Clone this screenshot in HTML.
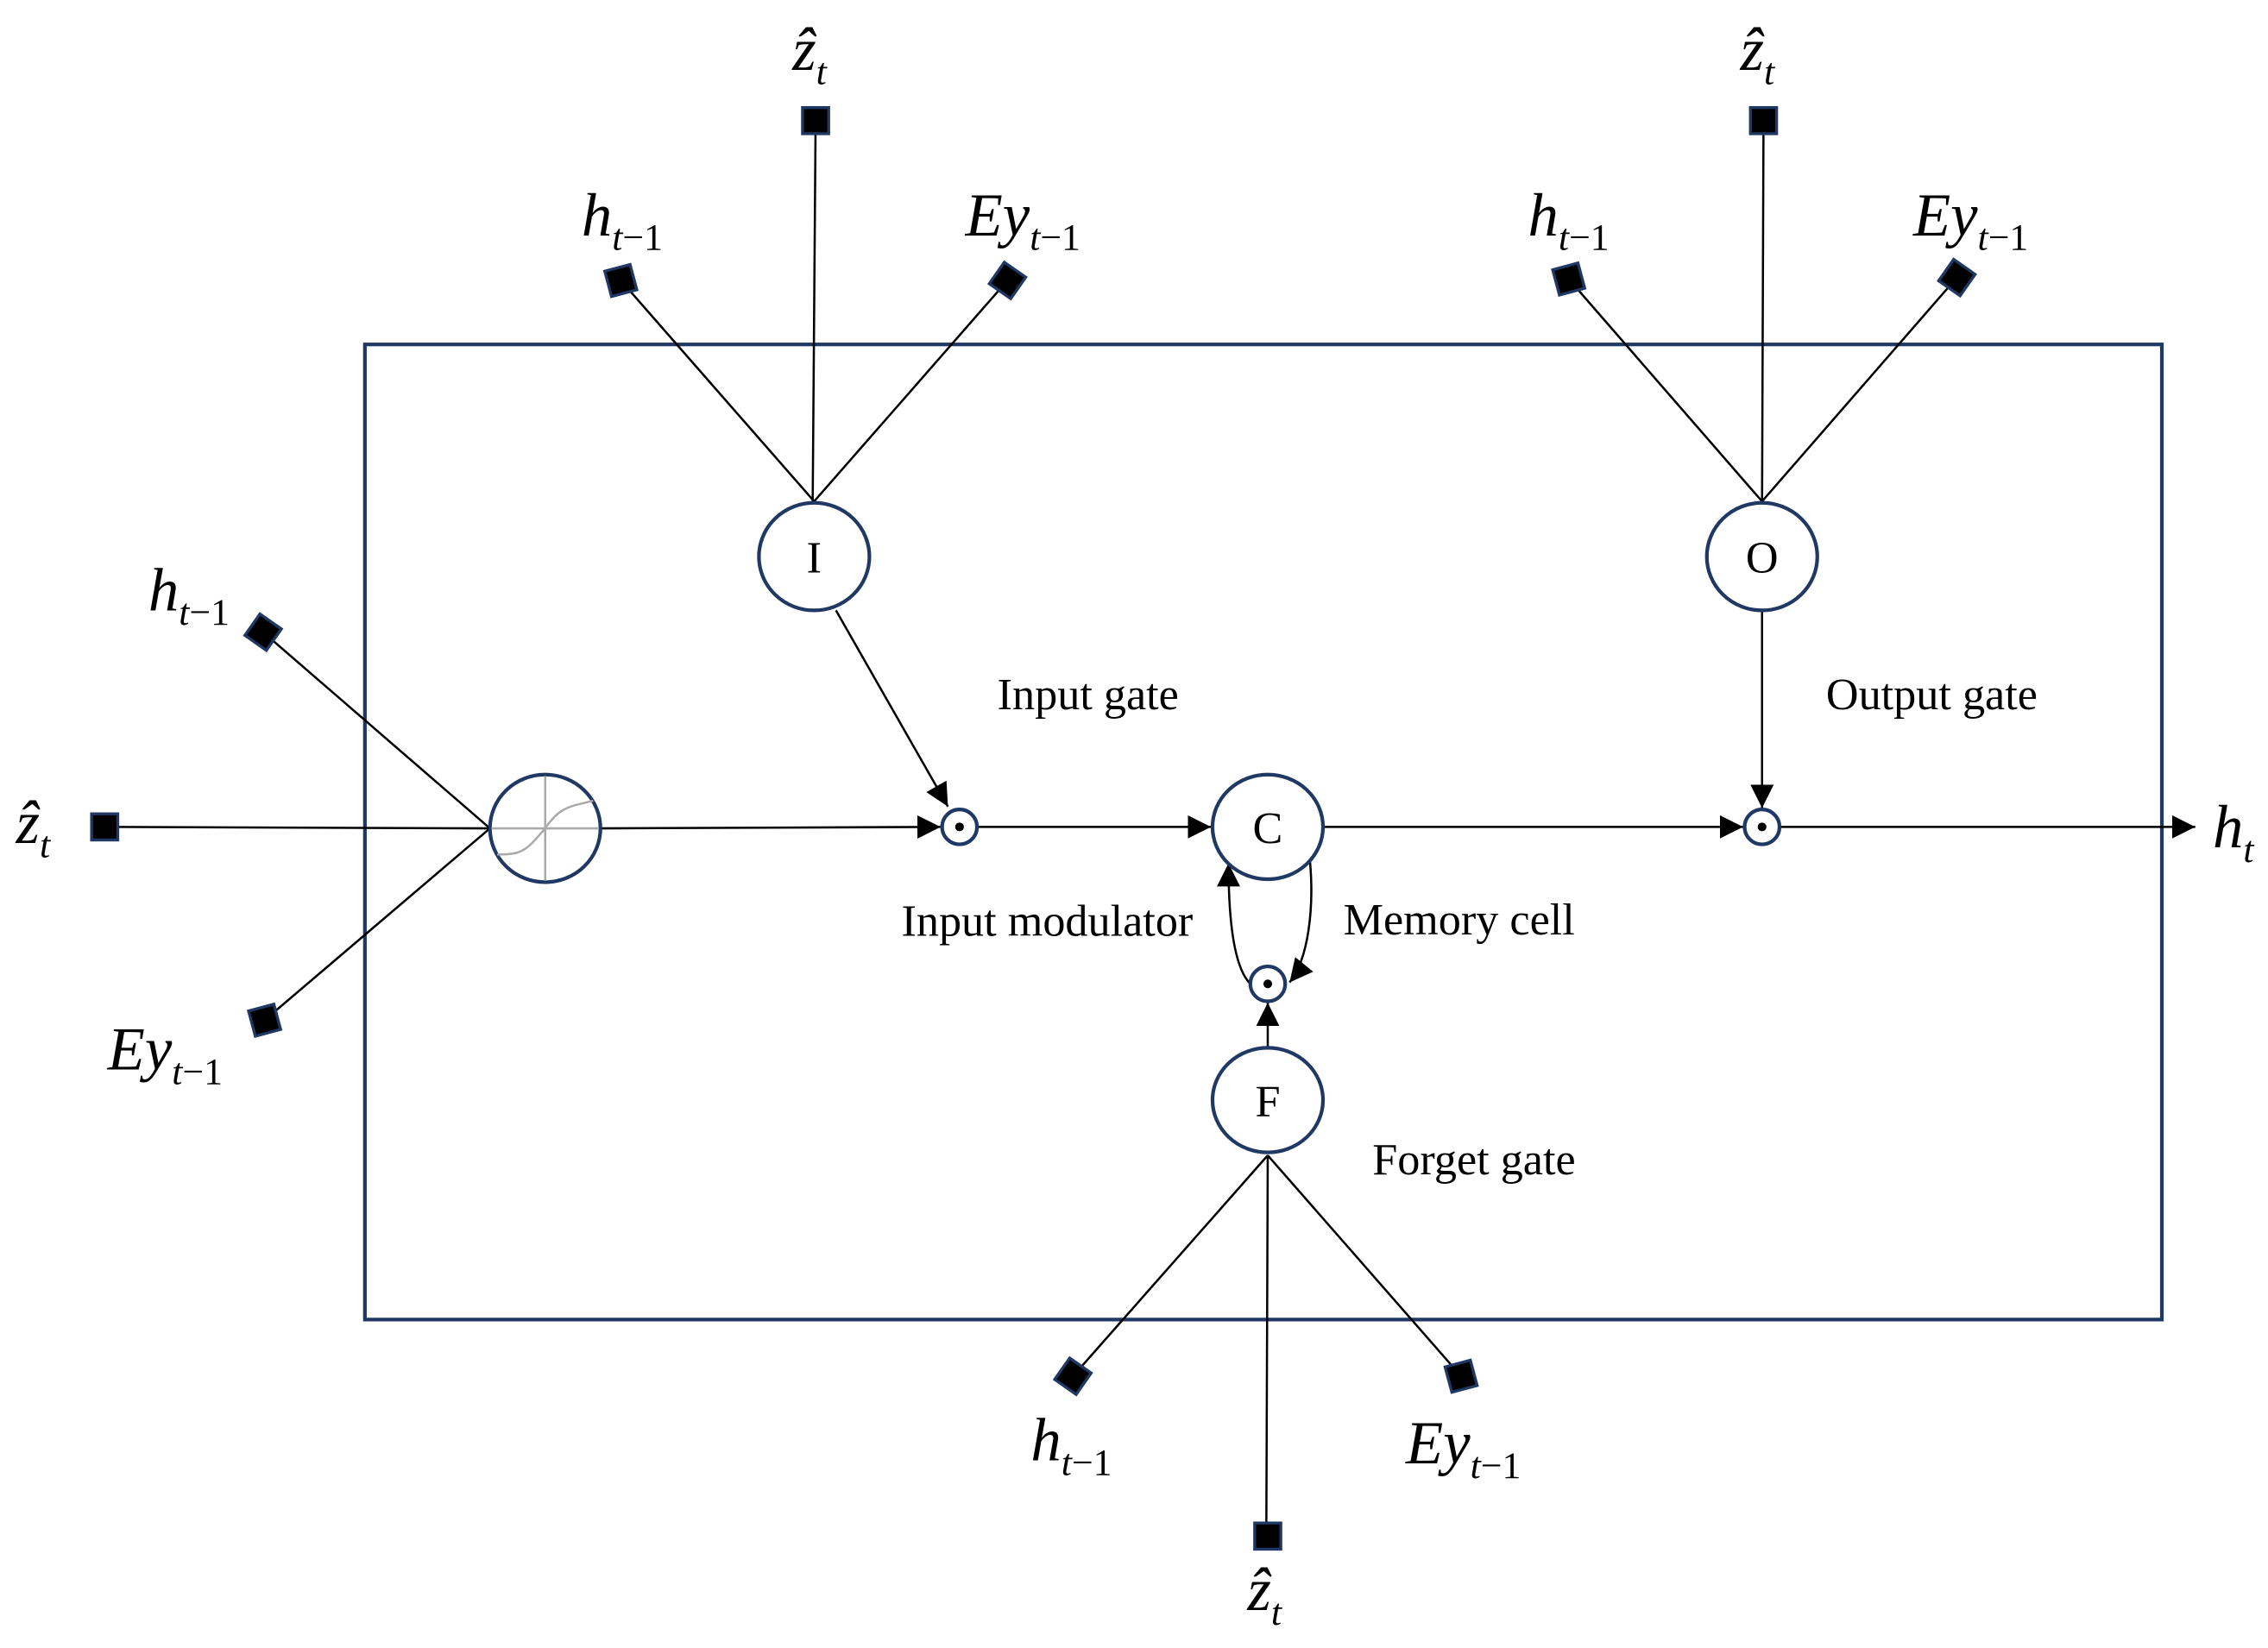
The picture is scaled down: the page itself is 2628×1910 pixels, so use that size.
<!DOCTYPE html>
<html><head><meta charset="utf-8"><style>
html,body{margin:0;padding:0;background:#fff;}
svg{display:block;}
text{font-family:"Liberation Serif",serif;fill:#000;}
.m{font-style:italic;font-size:42px;}
.s{font-size:26px;font-style:normal;}
.l{font-size:31px;}
</style></head><body>
<svg width="2628" height="1910" viewBox="0 0 1560 1134" preserveAspectRatio="none" xmlns="http://www.w3.org/2000/svg">
<defs>
<marker id="a" viewBox="0 0 10 10" refX="10" refY="5" markerWidth="16" markerHeight="16" markerUnits="userSpaceOnUse" orient="auto">
<path d="M0,0 L10,5 L0,10 z" fill="#000"/></marker>
<g id="sq"><rect x="-9" y="-9" width="18" height="18" fill="#000" stroke="#1f3864" stroke-width="2"/></g>
</defs>
<rect x="251" y="237" width="1236" height="671" fill="none" stroke="#1f3864" stroke-width="2.5"/>
<g stroke="#000" stroke-width="1.5" fill="none">
<line x1="427" y1="193" x2="560" y2="345"/><line x1="561" y1="83" x2="559" y2="345"/><line x1="693" y1="193" x2="560" y2="345"/>
<line x1="1079" y1="192" x2="1212" y2="345"/><line x1="1213" y1="83" x2="1212" y2="345"/><line x1="1346" y1="191" x2="1212" y2="345"/>
<line x1="181" y1="435" x2="337" y2="570"/><line x1="72" y1="569" x2="337" y2="570"/><line x1="182" y1="702" x2="337" y2="570"/>
<line x1="872" y1="795" x2="738" y2="947"/><line x1="872" y1="795" x2="871" y2="1057"/><line x1="872" y1="795" x2="1005" y2="947"/>
<line x1="575" y1="420" x2="652" y2="555" marker-end="url(#a)"/>
<line x1="413" y1="570" x2="647" y2="569" marker-end="url(#a)"/>
<line x1="673" y1="569" x2="833" y2="569" marker-end="url(#a)"/>
<line x1="910" y1="569" x2="1199" y2="569" marker-end="url(#a)"/>
<line x1="1212" y1="420" x2="1212" y2="556" marker-end="url(#a)"/>
<line x1="1225" y1="569" x2="1510" y2="569" marker-end="url(#a)"/>
<line x1="872" y1="720" x2="872" y2="690" marker-end="url(#a)"/>
<path d="M860,677 C848,665 845,630 845,594" marker-end="url(#a)"/>
<path d="M901,592 C904,625 900,660 887,676" marker-end="url(#a)"/>
</g>
<g fill="#fff" stroke="#1f3864" stroke-width="2.5">
<ellipse cx="560" cy="383" rx="38" ry="37"/>
<ellipse cx="1212" cy="383" rx="38" ry="37"/>
<ellipse cx="872" cy="569" rx="38" ry="36"/>
<ellipse cx="872" cy="757" rx="38" ry="36"/>
<ellipse cx="375" cy="570" rx="38" ry="37"/>
<circle cx="660" cy="569" r="12"/><circle cx="1212" cy="569" r="12"/><circle cx="872" cy="677" r="12"/>
</g>
<g fill="#000"><circle cx="660" cy="569" r="3"/><circle cx="1212" cy="569" r="3"/><circle cx="872" cy="677" r="3"/></g>
<g stroke="#aaa" stroke-width="1.5" fill="none">
<line x1="375" y1="534" x2="375" y2="606"/><line x1="338" y1="570" x2="412" y2="570"/>
<path d="M342,588 C360,588 362,585 375,570 C385,555 392,555 408,551"/>
</g>
<use href="#sq" transform="translate(561,83)"/>
<use href="#sq" transform="translate(1213,83)"/>
<use href="#sq" transform="translate(72,569)"/>
<use href="#sq" transform="translate(872,1057)"/>
<use href="#sq" transform="translate(427,193) rotate(-15)"/>
<use href="#sq" transform="translate(693,193) rotate(35)"/>
<use href="#sq" transform="translate(1079,192) rotate(-15)"/>
<use href="#sq" transform="translate(1346,191) rotate(35)"/>
<use href="#sq" transform="translate(181,435) rotate(35)"/>
<use href="#sq" transform="translate(182,702) rotate(-15)"/>
<use href="#sq" transform="translate(738,947) rotate(35)"/>
<use href="#sq" transform="translate(1005,947) rotate(-15)"/>
<g class="l" text-anchor="middle">
<text x="560" y="394">I</text><text x="1212" y="394">O</text>
<text x="872" y="580">C</text><text x="872" y="768">F</text>
</g>
<g class="l">
<text x="686" y="488">Input gate</text>
<text x="1256" y="488">Output gate</text>
<text x="620" y="644">Input modulator</text>
<text x="924" y="643">Memory cell</text>
<text x="944" y="808">Forget gate</text>
</g>
<text x="400" y="162" class="m">h<tspan class="s" dy="10"><tspan style="font-style:italic">t</tspan>−1</tspan></text>
<text x="664" y="162" class="m">Ey<tspan class="s" dy="10"><tspan style="font-style:italic">t</tspan>−1</tspan></text>
<text x="545" y="48" class="m">ẑ<tspan class="s" dy="10" style="font-style:italic">t</tspan></text>
<text x="1051" y="162" class="m">h<tspan class="s" dy="10"><tspan style="font-style:italic">t</tspan>−1</tspan></text>
<text x="1316" y="162" class="m">Ey<tspan class="s" dy="10"><tspan style="font-style:italic">t</tspan>−1</tspan></text>
<text x="1197" y="48" class="m">ẑ<tspan class="s" dy="10" style="font-style:italic">t</tspan></text>
<text x="102" y="420" class="m">h<tspan class="s" dy="10"><tspan style="font-style:italic">t</tspan>−1</tspan></text>
<text x="11" y="580" class="m">ẑ<tspan class="s" dy="10" style="font-style:italic">t</tspan></text>
<text x="74" y="736" class="m">Ey<tspan class="s" dy="10"><tspan style="font-style:italic">t</tspan>−1</tspan></text>
<text x="709" y="1005" class="m">h<tspan class="s" dy="10"><tspan style="font-style:italic">t</tspan>−1</tspan></text>
<text x="967" y="1007" class="m">Ey<tspan class="s" dy="10"><tspan style="font-style:italic">t</tspan>−1</tspan></text>
<text x="858" y="1108" class="m">ẑ<tspan class="s" dy="10" style="font-style:italic">t</tspan></text>
<text x="1522" y="583" class="m">h<tspan class="s" dy="10" style="font-style:italic">t</tspan></text>
</svg>
</body></html>
